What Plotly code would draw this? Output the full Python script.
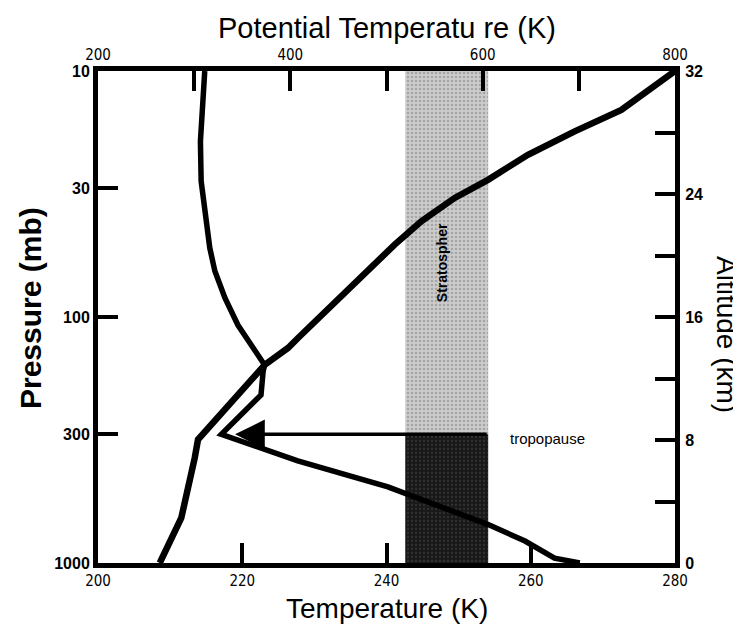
import math
import plotly.graph_objects as go

# ---- data ----
temp_T = [214.8, 214.6, 214.2, 214.3, 214.8, 215.5, 216.2, 217.6, 219.4, 221.3,
          223.1, 222.9, 222.6, 217.1, 227.7, 240.2, 254.1, 259.2, 263.3, 266.8]
temp_p = [10, 12.9, 19.3, 28, 36.1, 52.4, 65, 83.7, 107.8, 130,
          156.7, 165.8, 207.5, 300, 384.6, 490.9, 698, 814, 955, 1000]

theta_K = [800, 744.2, 695.7, 647.1, 605.5, 570.9, 536.2, 508.5, 408.0,
           397.6, 373.3, 338.6, 304.0, 300.6, 293.6, 286.6, 264.2]
theta_p = [10, 14.4, 17.6, 21.9, 27.7, 32.8, 40.8, 50.8, 121.7,
           133.6, 156.7, 220, 315, 374, 509.6, 656, 1000]

band_T = [242.6, 254.1]          # shaded column (K on bottom axis)
p_top, tropopause_p, p_bottom = 10, 300, 1000   # mb
arrow_tip_T = 219.0
p_ticks = [10, 30, 100, 300, 1000]
T_ticks = [200, 220, 240, 260, 280]
theta_ticks = [200, 300, 400, 500, 600, 700, 800]
theta_labels = ["200", "", "400", "", "600", "", "800"]
alt_ticks = [0, 4, 8, 12, 16, 20, 24, 28, 32]
alt_labels = ["0", "", "8", "", "16", "", "24", "", "32"]
strat_label_T, strat_label_p = 247.8, 60
trop_label_T = 262.3

L, R, T, B = 90, 74, 63, 69
W, H = 741, 624
pw = W - L - R
ph = H - T - B

fig = go.Figure()
lg = math.log10

# shaded column: stratosphere (light) and troposphere (dark)
fig.add_trace(go.Scatter(
    x=[band_T[0], band_T[1], band_T[1], band_T[0], band_T[0]],
    y=[p_top, p_top, tropopause_p, tropopause_p, p_top],
    mode="lines", fill="toself", line=dict(width=0), fillcolor="#c2c2c2",
    fillpattern=dict(shape=".", fgcolor="#808080", bgcolor="#cccccc", size=4, solidity=0.35),
    xaxis="x", yaxis="y", showlegend=False, hoverinfo="skip"))
fig.add_trace(go.Scatter(
    x=[band_T[0], band_T[1], band_T[1], band_T[0], band_T[0]],
    y=[tropopause_p, tropopause_p, p_bottom, p_bottom, tropopause_p],
    mode="lines", fill="toself", line=dict(width=0), fillcolor="#1c1c1c",
    fillpattern=dict(shape=".", fgcolor="#4a4a4a", bgcolor="#181818", size=4, solidity=0.25),
    xaxis="x", yaxis="y", showlegend=False, hoverinfo="skip"))

fig.add_trace(go.Scatter(x=temp_T, y=temp_p, mode="lines", xaxis="x", yaxis="y",
                         line=dict(color="black", width=5.5), showlegend=False))
fig.add_trace(go.Scatter(x=theta_K, y=theta_p, mode="lines", xaxis="x2", yaxis="y",
                         line=dict(color="black", width=6.5), showlegend=False))
# invisible trace to activate the altitude axis
fig.add_trace(go.Scatter(x=[None], y=[None], xaxis="x", yaxis="y2", showlegend=False))

# tropopause arrow
fig.add_annotation(x=arrow_tip_T, y=lg(tropopause_p), xref="x", yref="y",
                   ax=band_T[1], ay=lg(tropopause_p), axref="x", ayref="y",
                   showarrow=True, arrowhead=2, arrowsize=1.7, arrowwidth=3.5,
                   arrowcolor="black", text="")
fig.add_annotation(x=trop_label_T, y=lg(tropopause_p), xref="x", yref="y",
                   text="tropopause", showarrow=False, yshift=-4,
                   font=dict(family="Liberation Sans, Arial", size=15, color="black"))
fig.add_annotation(x=strat_label_T, y=lg(strat_label_p), xref="x", yref="y",
                   text="<b>Stratospher</b>", showarrow=False, textangle=-90,
                   font=dict(family="Liberation Sans, Arial", size=14, color="black"))

def px_x(px):
    return (px - L) / pw

def px_y(py):
    return 1 - (py - T) / ph

def title(text, x, y, size, angle=0):
    fig.add_annotation(x=px_x(x), y=px_y(y), xref="paper", yref="paper",
                       xanchor="center", yanchor="middle", text=text,
                       showarrow=False, textangle=angle, borderpad=0,
                       font=dict(family="Liberation Sans, Arial", size=size, color="black"))

title("Potential Temperatu re (K)", 379, 20, 29)
title("Temperature (K)", 379, 600, 28)
title("<b>Pressure (mb)</b>", 22, 300, 30, -90)
title("Altitude (km)", 719, 326, 28, 90)

axis_common = dict(showline=True, linewidth=5, linecolor="black", ticks="inside",
                   ticklen=20, tickwidth=4, tickcolor="black", showgrid=False,
                   zeroline=False, fixedrange=True)
cond_font = dict(family="DejaVu Sans Condensed, DejaVu Sans", size=15, color="black")
bold_font = dict(family="Liberation Sans, Arial", size=16, color="black", weight="bold")

fig.update_layout(
    width=W, height=H, margin=dict(l=L, r=R, t=T, b=B),
    paper_bgcolor="white", plot_bgcolor="white", showlegend=False,
    xaxis=dict(range=[200, 280], tickvals=T_ticks, tickfont=cond_font,
               side="bottom", anchor="y", **axis_common),
    xaxis2=dict(range=[200, 800], tickvals=theta_ticks, ticktext=theta_labels,
                tickfont=cond_font, side="top", overlaying="x", anchor="y",
                **axis_common),
    yaxis=dict(type="log", range=[3, 1], tickvals=p_ticks,
               ticktext=[str(v) for v in p_ticks], tickfont=bold_font,
               side="left", anchor="x", **axis_common),
    yaxis2=dict(range=[0, 32], tickvals=alt_ticks, ticktext=alt_labels,
                tickfont=bold_font, side="right", overlaying="y", anchor="x",
                ticklabelstandoff=2, **axis_common),
)

fig.write_html("out.html")
